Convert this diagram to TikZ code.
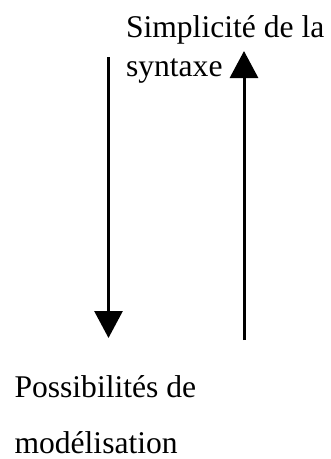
\documentclass[tikz,border=0pt]{standalone}
\usepackage{fontspec}
\setmainfont{Liberation Serif}
\usetikzlibrary{arrows.meta}
\tikzset{
  lbl/.style={anchor=base west, inner sep=0pt, outer sep=0pt, font=\fontsize{31.6}{39}\selectfont},
  bigarrow/.style={line width=3pt, -{Triangle[width=28pt,length=27pt]}}
}
\begin{document}
\begin{tikzpicture}[x=1pt,y=-1pt]
\useasboundingbox[fill=white] (0,0) rectangle (331,459);
\node[lbl] (s1) at (126,37) {Simplicité de la};
\node[lbl] (s2) at (126,76) {syntaxe};
\node[lbl] (p1) at (14.5,397) {Possibilités de};
\node[lbl] (p2) at (14.5,453) {modélisation};
\coordinate (lt) at (108.5,57);
\coordinate (lb) at (108.5,338);
\coordinate (rb) at (244,340);
\coordinate (rt) at (244,51);
\draw[bigarrow] (lt) -- (lb);
\draw[bigarrow] (rb) -- (rt);
\end{tikzpicture}
\end{document}
